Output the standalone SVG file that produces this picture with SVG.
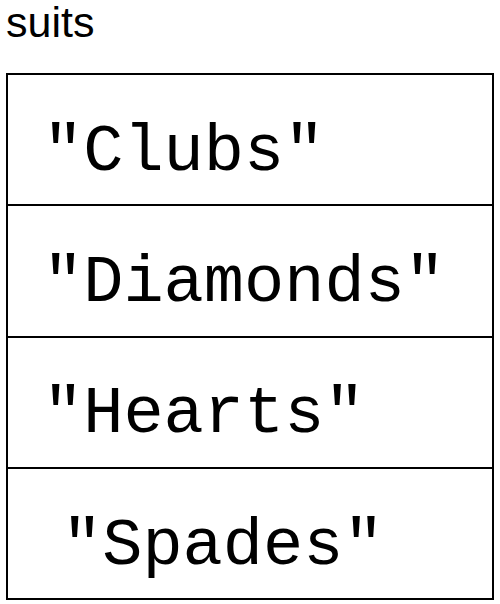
<svg xmlns="http://www.w3.org/2000/svg" width="500" height="604" viewBox="0 0 500 604">
<style>
.cell{fill:#fff;stroke:#000;stroke-width:2}
.lbl{font-family:"Liberation Sans",Arial,sans-serif;font-size:43px;fill:#000}
.val{font-family:"Liberation Mono","Courier New",monospace;font-size:67px;fill:#000}
</style>
<rect width="500" height="604" fill="#fff"/>
<g id="label"><text class="lbl" x="6" y="37">suits</text></g>
<g id="cell-0"><rect class="cell" x="7" y="74" width="486" height="131"/><text class="val" x="43" y="170">"Clubs"</text></g>
<g id="cell-1"><rect class="cell" x="7" y="205" width="486" height="132"/><text class="val" x="43" y="301">"Diamonds"</text></g>
<g id="cell-2"><rect class="cell" x="7" y="337" width="486" height="131"/><text class="val" x="43" y="432">"Hearts"</text></g>
<g id="cell-3"><rect class="cell" x="7" y="468" width="486" height="131"/><text class="val" x="62" y="564">"Spades"</text></g>
<g id="connectors"/>
</svg>
